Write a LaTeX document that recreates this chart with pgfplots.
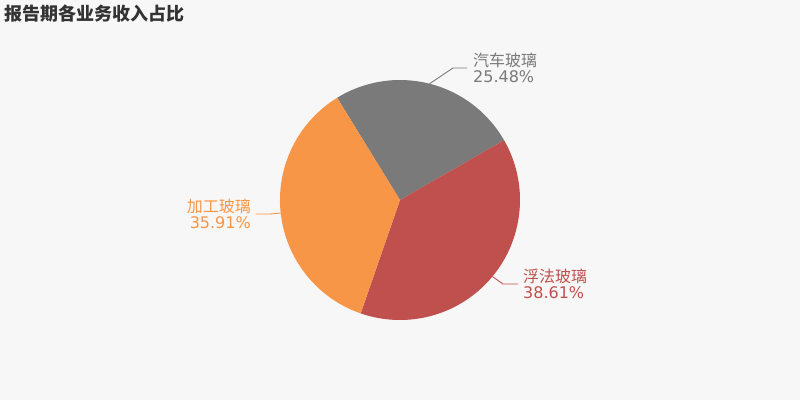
\documentclass[border=0pt]{standalone}
\usepackage{pgfplots}
\pgfplotsset{compat=1.18}
\usepackage{pgfplotstable}
\usepackage{fontspec}
\setmainfont{DejaVu Sans}
\newfontfamily\cjk{Noto Sans CJK SC}

\definecolor{bgcol}{HTML}{F7F7F7}
\definecolor{titlecol}{HTML}{333333}
\definecolor{slicegray}{HTML}{7A7A7A}
\definecolor{slicered}{HTML}{C0504D}
\definecolor{sliceorange}{HTML}{F79646}

% revenue share by business line, in percent (clockwise order)
\pgfplotstableread{
value
25.48
38.61
35.91
}\sharetable

\begin{document}
\begin{tikzpicture}
\begin{axis}[
  width=800bp, height=400bp, scale only axis,
  xmin=0, xmax=800, ymin=0, ymax=400,
  hide axis, clip=false,
]
\fill[bgcol] (axis cs:0,0) rectangle (axis cs:800,400);

\xdef\curang{121.6}
% #1 row, #2 colour, #3 name, #4 elbow x, #5 elbow y, #6 end x, #7 text x, #8 anchor
\newcommand{\pieslice}[8]{%
  \pgfplotstablegetelem{#1}{value}\of\sharetable
  \let\val\pgfplotsretval
  \pgfmathsetmacro\sweep{3.6*\val}
  \pgfmathsetmacro\endang{\curang-\sweep}
  \pgfmathsetmacro\midang{\curang-\sweep/2}
  \pgfmathsetmacro\ex{400+120*cos(\midang)}
  \pgfmathsetmacro\ey{200+120*sin(\midang)}
  \edef\temp{%
    \noexpand\fill[#2] (axis cs:400,200) -- ++(\curang:120bp)
      arc[start angle=\curang, end angle=\endang, radius=120bp] -- cycle;
    \noexpand\draw[#2, line width=0.9bp] (axis cs:\ex,\ey) -- (axis cs:#4,#5) -- (axis cs:#6,#5);
    \noexpand\node[anchor=#8, inner sep=0pt, text=#2, font=\noexpand\cjk\noexpand\fontsize{16bp}{18bp}\noexpand\selectfont]
      at (axis cs:#7,#5+8) {#3};
    \noexpand\node[anchor=#8, inner sep=0pt, text=#2, font=\noexpand\fontsize{16bp}{18bp}\noexpand\selectfont]
      at (axis cs:#7,#5-8.5) {\val\noexpand\%};
  }%
  \temp
  \xdef\curang{\endang}%
}

\pieslice{0}{slicegray}{汽车玻璃}{453}{332}{467}{473}{west}
\pieslice{1}{slicered}{浮法玻璃}{503}{116}{518}{523}{west}
\pieslice{2}{sliceorange}{加工玻璃}{270}{186}{256}{251}{east}

\node[anchor=west, inner sep=0pt, text=titlecol,
  font=\cjk\bfseries\fontsize{18bp}{21bp}\selectfont]
  at (axis cs:4,386) {报告期各业务收入占比};
\end{axis}
\end{tikzpicture}
\end{document}
